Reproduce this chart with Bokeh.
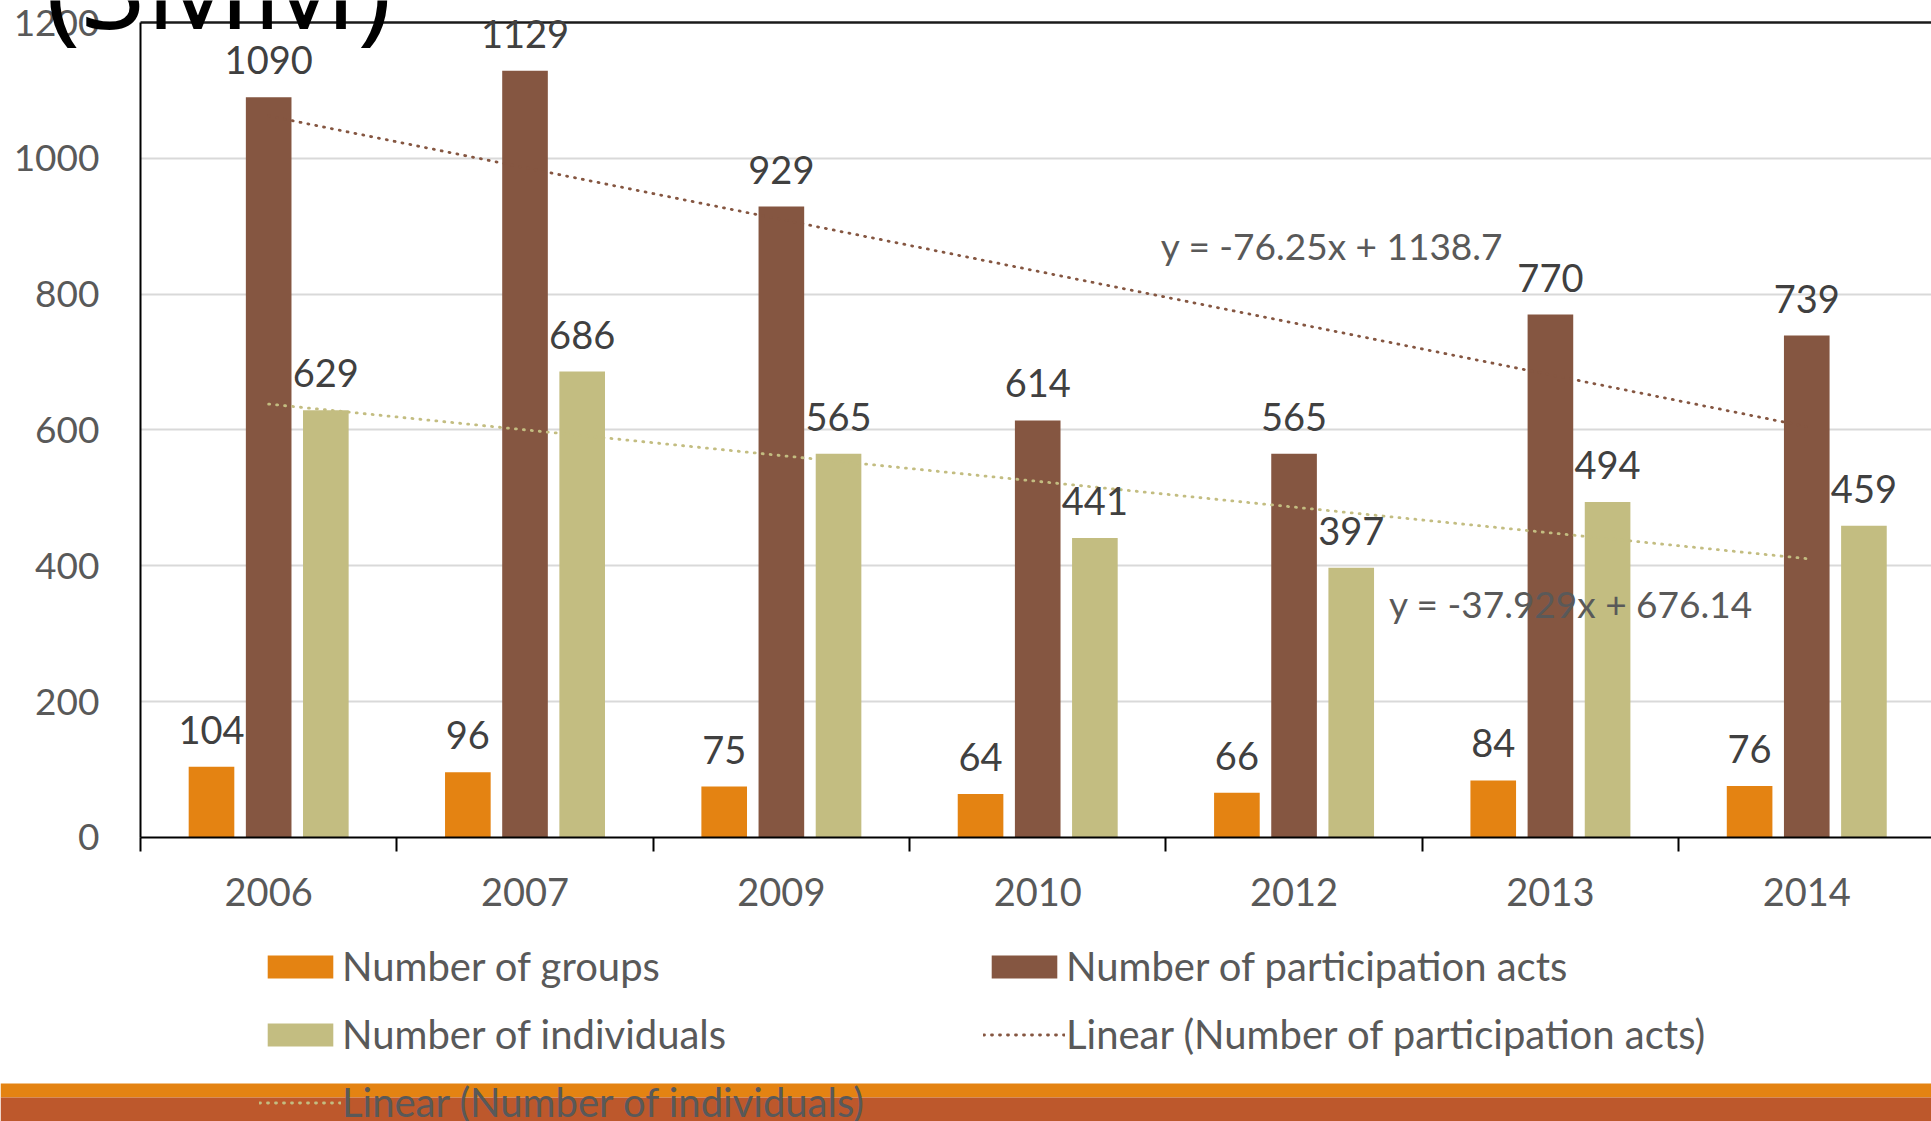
from bokeh.plotting import figure
from bokeh.models import (ColumnDataSource, Range1d, FixedTicker, Grid, Legend, LegendItem,
                          Label, BoxAnnotation)
from bokeh.core.properties import value
from bokeh.embed import file_html
from bokeh.resources import INLINE
import numpy as np

years = ["2006", "2007", "2009", "2010", "2012", "2013", "2014"]
groups = [104, 96, 75, 64, 66, 84, 76]
acts = [1090, 1129, 929, 614, 565, 770, 739]
individuals = [629, 686, 565, 441, 397, 494, 459]
y_ticks = [0, 200, 400, 600, 800, 1000, 1200]

# trendline equations as printed on the chart (x = 1..7)
acts_slope, acts_icpt = -76.25, 1138.7
ind_slope, ind_icpt = -37.929, 676.14
acts_eq = "y = -76.25x + 1138.7"
ind_eq = "y = -37.929x + 676.14"

series_names = ["Number of groups", "Number of participation acts", "Number of individuals"]
trend_names = ["Linear (Number of participation acts)", "Linear (Number of individuals)"]
title_text = "(SMM)"

C_ORANGE = "#E48312"
C_BROWN = "#855641"
C_OLIVE = "#C3BD81"
C_RED = "#BD582C"
TXT = "#595959"
LBL = "#404040"
FONT = value("Lato")

n = len(years)
xc = np.arange(n) + 0.5
off = 0.223
bw = 0.178

src = ColumnDataSource(dict(
    xg=xc - off, xa=xc, xi=xc + off,
    g=groups, a=acts, i=individuals,
    gl=[str(v) for v in groups], al=[str(v) for v in acts], il=[str(v) for v in individuals],
))

W, H = 1931, 1121
p = figure(width=W, height=H, x_range=Range1d(-0.5461, 6.9866), y_range=Range1d(-418.16, 1232.39),
           output_backend="svg", toolbar_location=None, min_border=0)
p.outline_line_color = None
p.background_fill_color = "white"
p.border_fill_color = "white"

# grid
p.xgrid.visible = False
p.ygrid.ticker = FixedTicker(ticks=y_ticks[1:-1])
p.ygrid.grid_line_color = "#D9D9D9"
p.ygrid.grid_line_width = 2
p.ygrid.cross_bounds = (0, n)
# top border of the chart box
p.add_layout(Grid(dimension=1, ticker=FixedTicker(ticks=[1200]), grid_line_color="#1A1A1A",
                  grid_line_width=2.5, cross_bounds=(0, n)))

# axes
p.yaxis.fixed_location = 0
p.yaxis.bounds = (0, 1200)
p.yaxis.ticker = FixedTicker(ticks=y_ticks)
p.yaxis.major_tick_out = 0
p.yaxis.major_tick_in = 0
p.yaxis.minor_tick_line_color = None
p.yaxis.major_label_standoff = 41
p.yaxis.major_label_text_font = "Lato"
p.yaxis.major_label_text_font_size = "37px"
p.yaxis.major_label_text_color = TXT
p.yaxis.axis_line_color = "black"
p.yaxis.axis_line_width = 2

p.xaxis.fixed_location = 0
p.xaxis.bounds = (0, n)
p.xaxis.ticker = FixedTicker(ticks=list(xc), minor_ticks=list(range(n + 1)))
p.xaxis.major_label_overrides = {float(x): y for x, y in zip(xc, years)}
p.xaxis.major_tick_out = 0
p.xaxis.major_tick_in = 0
p.xaxis.minor_tick_out = 14
p.xaxis.minor_tick_in = 0
p.xaxis.minor_tick_line_color = "black"
p.xaxis.minor_tick_line_width = 2
p.xaxis.major_label_standoff = 27
p.xaxis.major_label_text_font = "Lato"
p.xaxis.major_label_text_font_size = "38px"
p.xaxis.major_label_text_color = TXT
p.xaxis.axis_line_color = "black"
p.xaxis.axis_line_width = 2

# bars
rg = p.vbar(x="xg", top="g", width=bw, source=src, fill_color=C_ORANGE, line_color=None)
ra = p.vbar(x="xa", top="a", width=bw, source=src, fill_color=C_BROWN, line_color=None)
ri = p.vbar(x="xi", top="i", width=bw, source=src, fill_color=C_OLIVE, line_color=None)

# trendlines
tx = np.array([1, n])
ta = p.line(x=tx - 0.5, y=acts_slope * tx + acts_icpt, line_color=C_BROWN, line_width=2.8,
            line_dash="1 7", line_cap="round")
ti = p.line(x=tx - 0.5, y=ind_slope * tx + ind_icpt, line_color=C_OLIVE, line_width=2.8,
            line_dash="1 7", line_cap="round")

# data labels
for xcol, ycol, tcol in [("xg", "g", "gl"), ("xa", "a", "al"), ("xi", "i", "il")]:
    p.text(x=xcol, y=ycol, text=tcol, source=src, text_align="center", text_baseline="alphabetic",
           y_offset=-37, text_font=FONT, text_font_size="38px", text_color=LBL)

# equations
p.text(x=[3.98, 4.87], y=[871, 344], text=[acts_eq, ind_eq], text_align="left",
       text_baseline="middle", text_font=FONT, text_font_size="37px", text_color=TXT)

# slide bands
p.add_layout(BoxAnnotation(left=0, right=W, top=38, bottom=24,
                           left_units="screen", right_units="screen", top_units="screen",
                           bottom_units="screen", fill_color=C_ORANGE, fill_alpha=1, line_color=None))
p.add_layout(BoxAnnotation(left=0, right=W, top=24, bottom=-5,
                           left_units="screen", right_units="screen", top_units="screen",
                           bottom_units="screen", fill_color=C_RED, fill_alpha=1, line_color=None))

legend = Legend(items=[
    LegendItem(label=series_names[0], renderers=[rg]),
    LegendItem(label=series_names[1], renderers=[ra]),
    LegendItem(label=series_names[2], renderers=[ri]),
    LegendItem(label=trend_names[0], renderers=[ta]),
    LegendItem(label=trend_names[1], renderers=[ti]),
], location=(259, -5), orientation="horizontal", ncols=2,
    glyph_width=82, glyph_height=29, label_standoff=1, label_width=621, label_height=40,
    spacing=20, padding=0, margin=0, border_line_color=None, background_fill_alpha=0,
    label_text_font="Lato", label_text_font_size="40px", label_text_color=TXT)
p.add_layout(legend, "center")

p.add_layout(Label(x=45, y=H + 17, x_units="screen", y_units="screen", text=title_text,
                   text_font="Open Sans", text_font_size="118px", text_color="black",
                   text_baseline="alphabetic"))

open("out.html", "w").write(file_html(p, INLINE))
